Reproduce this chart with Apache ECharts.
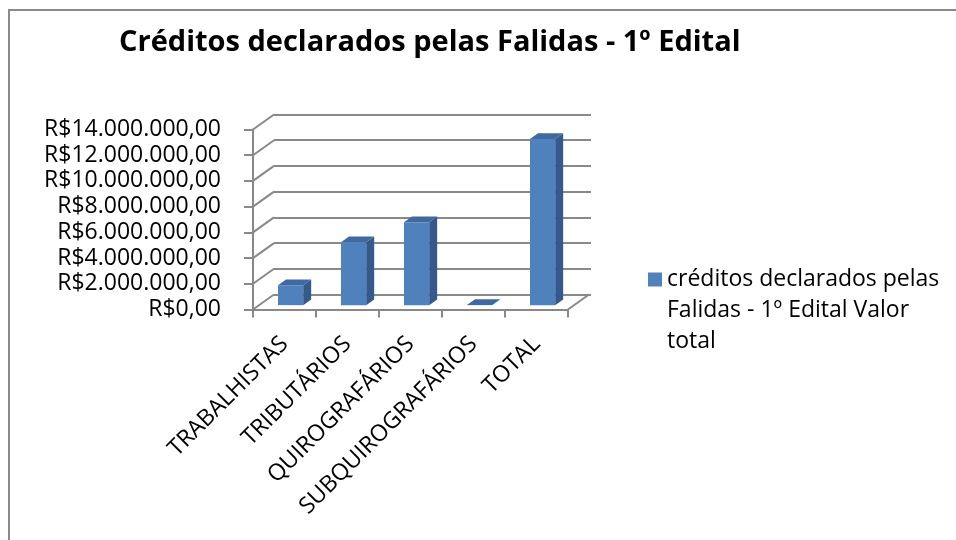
<!DOCTYPE html>
<html>
<head>
<meta charset="utf-8">
<script src="https://cdn.jsdelivr.net/npm/echarts@6/dist/echarts.min.js"></script>
<style>html,body{margin:0;padding:0;background:#fff;}#c{width:956px;height:540px;}</style>
</head>
<body>
<div id="c"></div>
<script>
var titleText = 'Créditos declarados pelas Falidas - 1º Edital';
var seriesName = 'créditos declarados pelas Falidas - 1º Edital Valor total';
var legendLines = ['créditos declarados pelas', 'Falidas - 1º Edital Valor', 'total'];
var categories = ['TRABALHISTAS', 'TRIBUTÁRIOS', 'QUIROGRAFÁRIOS', 'SUBQUIROGRAFÁRIOS', 'TOTAL'];
var values = [1550000, 4900000, 6450000, 20000, 12920000];
var yTicks = [0, 2000000, 4000000, 6000000, 8000000, 10000000, 12000000, 14000000];

var FONT = 'Open Sans';
var DX = 21, DY = -15;
var GL = 253, GT = 129.5, GW = 315, GH = 180;
var FRONT = '#4F81BD', SIDE = '#34598A', TOPC = '#3F69A0', GRID = '#898989';

function fmtBRL(v) {
  var s = Math.round(v).toString().replace(/\B(?=(\d{3})+(?!\d))/g, '.');
  return 'R$' + s + ',00';
}

function renderBar(params, api) {
  var i = api.value(0), v = api.value(1);
  var base = api.coord([i, 0]);
  var top = api.coord([i, v]);
  var cw = api.size([1, 0])[0];
  var w = cw * 0.4;
  var sx = DX * 0.29, sy = DY * 0.29;
  var dx = DX * 0.38, dy = DY * 0.38;
  var xl = base[0] - w / 2 + sx, xr = xl + w;
  var yb = base[1] + sy, yt = top[1] + sy;
  return {
    type: 'group',
    children: [
      {type: 'polygon', shape: {points: [[xr, yt], [xr + dx, yt + dy], [xr + dx, yb + dy], [xr, yb]]}, style: {fill: SIDE}},
      {type: 'polygon', shape: {points: [[xl, yt], [xl + dx, yt + dy], [xr + dx, yt + dy], [xr, yt]]}, style: {fill: TOPC}},
      {type: 'rect', shape: {x: xl, y: yt, width: w, height: Math.max(0, yb - yt)}, style: {fill: FRONT}}
    ]
  };
}

function renderWall(params, api) {
  var v = api.value(1);
  var p = api.coord([0, v]);
  var cw = api.size([1, 0])[0];
  var x = p[0] - cw / 2;
  return {type: 'line', shape: {x1: x, y1: p[1], x2: x + DX, y2: p[1] + DY}, style: {stroke: GRID, lineWidth: 2}};
}

function renderFloorEdge(params, api) {
  var p = api.coord([categories.length - 1, 0]);
  var cw = api.size([1, 0])[0];
  var x = p[0] + cw / 2;
  return {type: 'line', shape: {x1: x, y1: p[1], x2: x + DX, y2: p[1] + DY}, style: {stroke: GRID, lineWidth: 2}};
}

var chart = echarts.init(document.getElementById('c'));
chart.setOption({
  animation: false,
  backgroundColor: '#fff',
  title: {
    text: titleText,
    left: 114, top: 23,
    textStyle: {fontFamily: FONT, fontSize: 29, fontWeight: 'bold', color: '#000'}
  },
  legend: {
    data: [seriesName],
    left: 648, top: 202,
    padding: 0,
    itemWidth: 14, itemHeight: 14,
    icon: 'rect',
    formatter: function () { return '\n\n' + legendLines.join('\n'); },
    textStyle: {fontFamily: FONT, fontSize: 23, color: '#000', lineHeight: 31}
  },
  graphic: [
    {type: 'rect', silent: true, z: -10, shape: {x: 9, y: 10, width: 2000, height: 2000}, style: {fill: 'none', stroke: '#8a8a8a', lineWidth: 2}}
  ],
  grid: [
    {left: GL, top: GT, width: GW, height: GH},
    {left: GL + DX, top: GT + DY, width: GW + 2, height: GH}
  ],
  xAxis: [
    {
      type: 'category', gridIndex: 0, data: categories,
      axisLine: {lineStyle: {color: GRID, width: 2}},
      axisTick: {show: true, length: 8, alignWithLabel: false, lineStyle: {color: GRID, width: 2}},
      axisLabel: {rotate: 45, interval: 0, margin: 31, fontFamily: FONT, fontSize: 23, color: '#000'}
    },
    {type: 'category', gridIndex: 1, data: categories, show: false}
  ],
  yAxis: [
    {
      type: 'value', gridIndex: 0, min: 0, max: 14000000, interval: 2000000,
      axisLine: {show: true, lineStyle: {color: GRID, width: 2}},
      axisTick: {show: true, length: 9, lineStyle: {color: GRID, width: 2}},
      splitLine: {show: false},
      axisLabel: {margin: 32, fontFamily: FONT, fontSize: 23, color: '#000', formatter: fmtBRL}
    },
    {
      type: 'value', gridIndex: 1, min: 0, max: 14000000, interval: 2000000,
      axisLine: {show: false}, axisTick: {show: false}, axisLabel: {show: false},
      splitLine: {show: true, lineStyle: {color: GRID, width: 2}}
    }
  ],
  series: [
    {
      type: 'custom', name: 'wall', xAxisIndex: 0, yAxisIndex: 0, silent: true, z: 1,
      data: yTicks.map(function (t) { return [0, t]; }),
      renderItem: renderWall
    },
    {
      type: 'custom', name: 'floor', xAxisIndex: 0, yAxisIndex: 0, silent: true, z: 1,
      data: [[0, 0]],
      renderItem: renderFloorEdge
    },
    {
      type: 'custom', name: seriesName, xAxisIndex: 0, yAxisIndex: 0, z: 5,
      itemStyle: {color: FRONT},
      data: values.map(function (v, i) { return [i, v]; }),
      encode: {x: 0, y: 1},
      renderItem: renderBar
    }
  ]
});
</script>
</body>
</html>
